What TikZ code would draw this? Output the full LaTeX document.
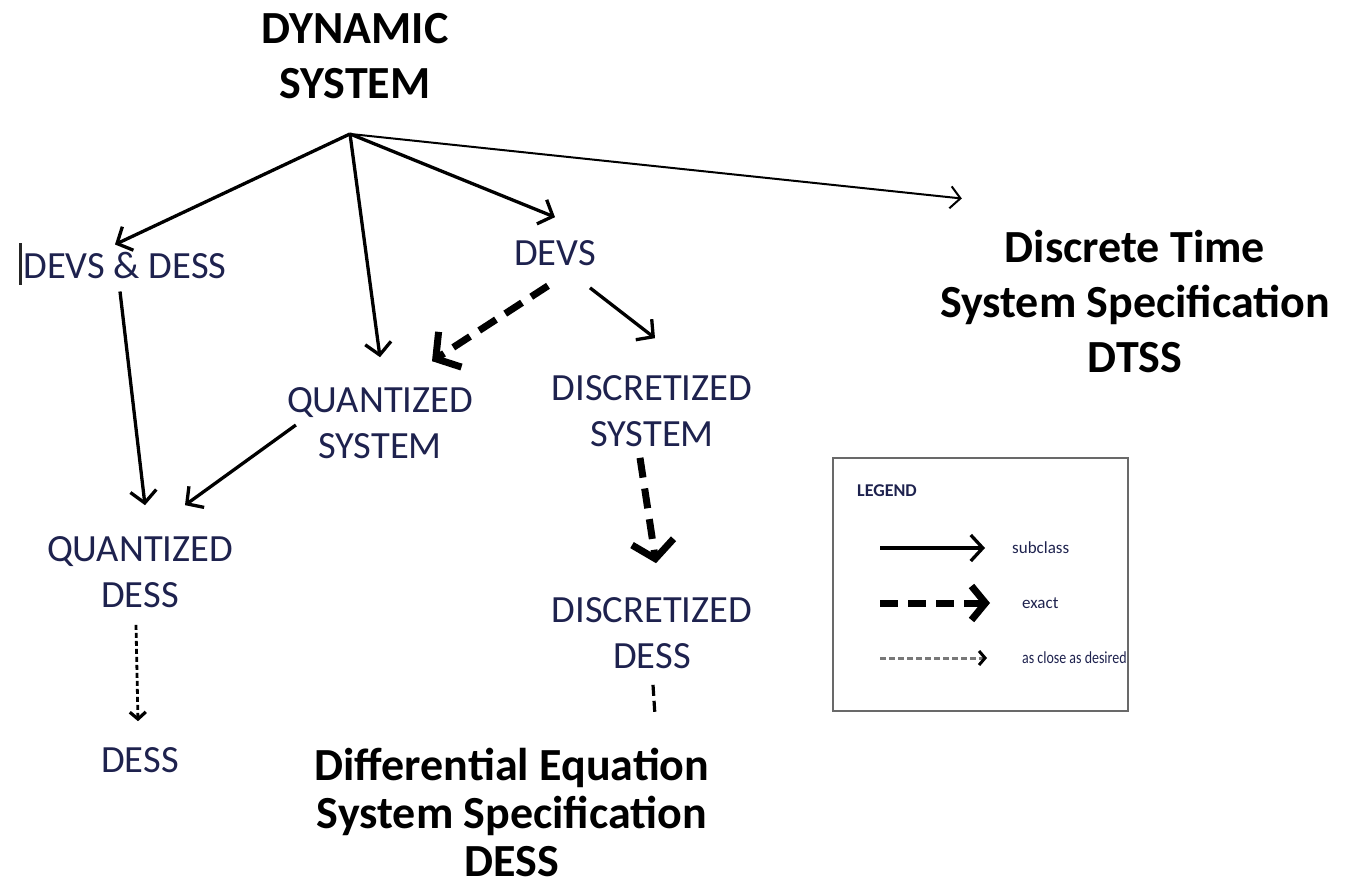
\documentclass[tikz,border=0pt]{standalone}
\usepackage{fontspec}
\setmainfont{Carlito}
\usetikzlibrary{arrows.meta}
\definecolor{ink}{RGB}{30,34,78}
\definecolor{framegray}{RGB}{105,105,105}
\definecolor{dashgray}{RGB}{120,120,120}

\begin{document}
\begin{tikzpicture}[x=1pt,y=-1pt,
  title/.style={font=\fontsize{46}{55}\selectfont\bfseries, text=black, align=center, inner sep=0pt},
  lbl/.style={font=\fontsize{38.5}{46}\selectfont, text=ink, align=center, inner sep=0pt},
  lgtxt/.style={font=\fontsize{17}{20}\selectfont, text=ink, anchor=west, inner sep=0pt},
  sub/.style={line width=3.3pt, -{Straight Barb[length=12pt,width=26pt]}},
  thinsub/.style={line width=2pt, -{Straight Barb[length=10pt,width=22pt]}},
  exact/.style={line width=7pt, dash pattern=on 20pt off 11pt, -{Straight Barb[length=17pt,width=42pt]}},
  close/.style={line width=2.8pt, dash pattern=on 5pt off 3pt, -{Straight Barb[length=7pt,width=16pt,line width=3.2pt]}},
]
\useasboundingbox (0,0) rectangle (1348,887);

% headings
\node[title] (dyn) at (355,56) {DYNAMIC\\SYSTEM};
\node[title] (dtss) at (1135,302) {Discrete Time\\System Specification\\DTSS};
\node[title, font=\fontsize{46}{48}\selectfont\bfseries] (diff) at (512,812) {Differential Equation\\System Specification\\DESS};

% system classes
\node[lbl] (devsdess) at (125,265) {DEVS \& DESS};
\node[lbl] (devs) at (555,253) {DEVS};
\node[lbl] (qsys) at (380,423) {QUANTIZED\\SYSTEM};
\node[lbl] (dsys) at (652,411) {DISCRETIZED\\SYSTEM};
\node[lbl] (qdess) at (140,572) {QUANTIZED\\DESS};
\node[lbl] (ddess) at (652,633) {DISCRETIZED\\DESS};
\node[lbl] (dess) at (140,760) {DESS};

% text cursor in front of DEVS & DESS
\draw[line width=2.5pt, black!85] ([shift={(-3,-22)}]devsdess.west) -- ([shift={(-3,20)}]devsdess.west);

% common starting point below DYNAMIC SYSTEM
\coordinate (apex) at ([shift={(-5,35)}]dyn.south);

% subclass relations
\draw[sub] (apex) -- ([shift={(-10,-7)}]devsdess.north);
\draw[sub] (apex) -- ([shift={(0,-30)}]qsys.north);
\draw[sub] (apex) -- ([shift={(0,-23)}]devs.north);
\draw[thinsub] (apex) -- ([shift={(22,-32)}]dtss.north west);
\draw[sub] ([shift={(-5,13)}]devsdess.south) -- ([shift={(5,-31)}]qdess.north);
\draw[sub] ([shift={(9,2)}]qsys.west) -- ([shift={(45,-31)}]qdess.north);
\draw[sub] ([shift={(35,22)}]devs.south) -- ([shift={(3,-37)}]dsys.north);

% exact relations
\draw[exact] ([shift={(-7,20)}]devs.south) -- ([shift={(52,-26)}]qsys.north);
\draw[exact] ([shift={(-12,11)}]dsys.south) -- ([shift={(4,-34)}]ddess.north);

% approximations
\draw[close] ([shift={(-4,17)}]qdess.south) -- ([shift={(-2,-26)}]dess.north);
\coordinate (stubend) at ([shift={(3,47)}]ddess.south);
\draw[line width=3.2pt, dash pattern=on 11pt off 5pt] ([shift={(1,16)}]ddess.south) -- (stubend);

% legend
\node[draw=framegray, line width=2pt, minimum width=295pt, minimum height=253pt, inner sep=0pt] (legend) at (980.5,584.5) {};
\node[font=\fontsize{18}{20}\selectfont\bfseries, text=ink, anchor=west, inner sep=0pt] (lgtitle) at (857,491) {LEGEND};
\node[lgtxt] (lsub) at (1012,548) {subclass};
\node[lgtxt] (lexact) at (1022,603) {exact};
\node[lgtxt] (lclose) at (1022,658) {\scalebox{0.82}[1]{as close as desired}};
\draw[sub] ([xshift=-132pt]lsub.west) -- ([xshift=-27pt]lsub.west);
\draw[line width=7pt, dash pattern=on 18pt off 10pt, -{Straight Barb[length=14pt,width=34pt]}] ([xshift=-142pt]lexact.west) -- ([xshift=-32pt]lexact.west);
\draw[dashgray, line width=3pt, dash pattern=on 6pt off 3pt, -{Straight Barb[length=6pt,width=14pt,color=black]}] ([xshift=-142pt]lclose.west) -- ([xshift=-35pt]lclose.west);
\end{tikzpicture}
\end{document}
